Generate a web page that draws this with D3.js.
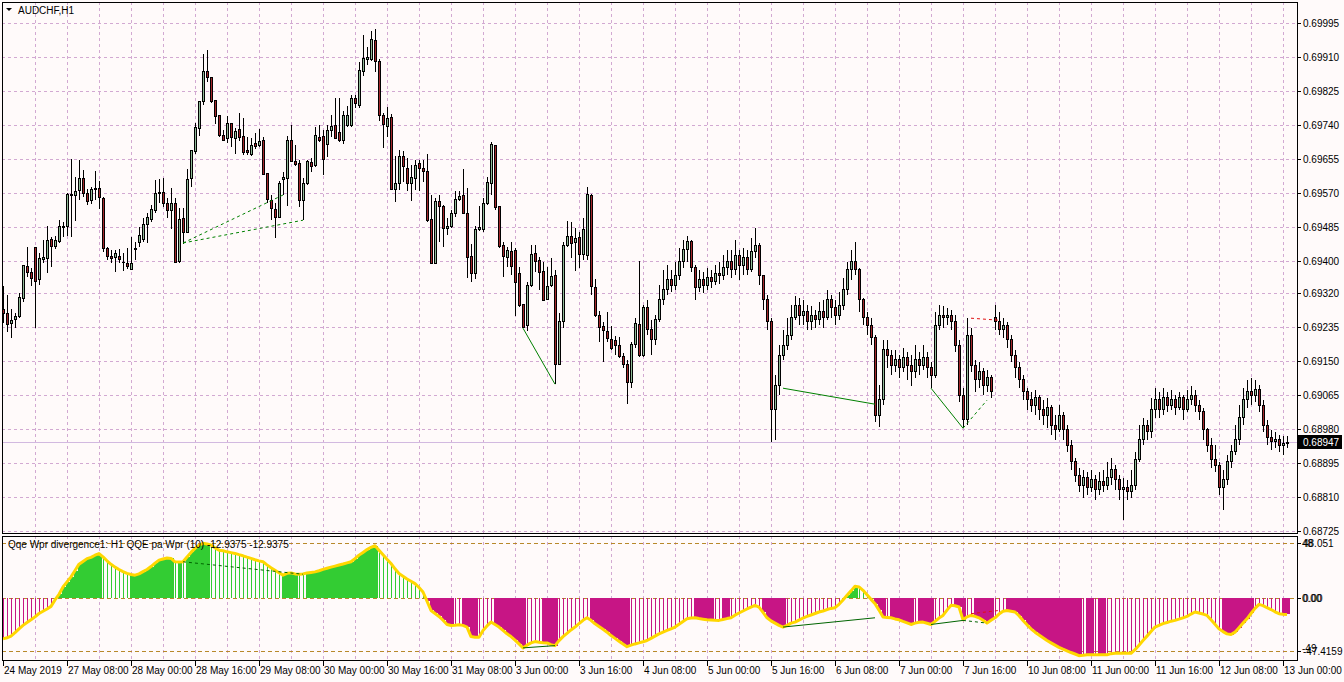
<!DOCTYPE html>
<html>
<head>
<meta charset="utf-8">
<script src="https://cdn.jsdelivr.net/npm/d3@7"></script>
<style>
body { margin: 0; background: #fffafa; }
svg { display: block; font-family: "Liberation Sans", Arial, sans-serif; }
</style>
</head>
<body>
<svg id="chart" width="1344" height="682"></svg>
<script>
// AUDCHF H1 candles, prices in points (1e-5)
var openPts = [69280,69270,69245,69255,69261,69306,69387,69372,69434,69354,69404,69406,69454,69437,69449,69484,69486,69564,69564,69577,
69607,69569,69551,69579,69582,69557,69431,69412,69409,69412,69397,69394,69379,69429,69447,69454,69491,69504,69526,69569,
69572,69544,69526,69544,69398,69507,69472,69607,69675,69732,69798,69875,69860,69802,69763,69713,69707,69744,69707,69729,
69711,69677,69667,69693,69688,69701,69619,69552,69530,69509,69605,69607,69702,69650,69644,69551,69594,69647,69638,69709,
69711,69691,69727,69740,69722,69701,69740,69740,69807,69788,69875,69903,69905,69952,69900,69763,69737,69760,69578,69593,
69662,69632,69593,69607,69645,69632,69625,69505,69393,69550,69536,69482,69487,69519,69555,69565,69519,69412,69369,69480,
69480,69544,69594,69690,69536,69440,69408,69425,69427,69369,69292,69238,69340,69418,69402,69375,69303,69338,69363,69142,
69248,69438,69461,69447,69459,69417,69415,69565,69335,69263,69237,69223,69205,69202,69188,69162,69142,69097,69192,69242,
69163,69283,69228,69203,69253,69303,69328,69353,69340,69365,69398,69428,69448,69383,69333,69353,69338,69358,69348,69368,
69363,69383,69398,69378,69415,69390,69408,69378,69423,69440,69365,69303,69248,69028,69090,69165,69190,69215,69258,69290,
69265,69273,69248,69265,69253,69273,69258,69303,69283,69265,69290,69328,69378,69398,69378,69303,69258,69240,69208,69015,
69053,69178,69165,69140,69153,69133,69158,69140,69123,69153,69140,69158,69133,69115,69240,69265,69258,69263,69248,69190,
69065,69003,69215,69140,69103,69123,69090,69108,69258,69248,69228,69240,69203,69165,69133,69103,69073,69053,69040,69058,
69028,69015,69033,68990,68978,69015,68978,68940,68898,68865,68840,68858,68833,68853,68828,68848,68840,68858,68878,68853,
68828,68833,68823,68840,68903,68953,68990,68973,69028,69053,69028,69058,69040,69053,69033,69058,69028,69053,69065,69040,
69023,68978,68940,68903,68890,68833,68853,68898,68923,68953,69008,69053,69073,69065,69078,69040,68990,68958,68948,68953,
68940,68945];
var highPts = [69337,69315,69280,69270,69319,69389,69436,69382,69434,69421,69452,69487,69459,69462,69502,69498,69569,69656,69611,69652,
69627,69579,69586,69624,69601,69561,69436,69427,69427,69431,69419,69432,69459,69448,69485,69507,69519,69540,69602,69604,
69607,69557,69582,69557,69533,69533,69630,69677,69744,69800,69917,69927,69861,69802,69763,69727,69763,69744,69732,69769,
69757,69710,69708,69719,69730,69710,69619,69565,69544,69600,69623,69713,69740,69690,69652,69607,69652,69658,69736,69740,
69727,69740,69765,69807,69807,69775,69788,69815,69815,69898,69965,69936,69975,69980,69905,69769,69786,69767,69663,69677,
69675,69658,69640,69652,69652,69652,69667,69565,69558,69565,69540,69507,69527,69575,69575,69630,69582,69442,69488,69537,
69557,69611,69698,69690,69538,69447,69436,69447,69433,69386,69292,69348,69440,69440,69411,69398,69386,69408,69377,69269,
69447,69500,69497,69482,69473,69507,69586,69567,69355,69275,69248,69272,69238,69212,69211,69169,69152,69197,69257,69400,
69290,69303,69253,69265,69340,69378,69390,69378,69398,69433,69453,69463,69453,69390,69378,69373,69383,69378,69390,69398,
69415,69428,69428,69453,69428,69433,69428,69458,69483,69445,69365,69315,69258,69115,69190,69228,69258,69290,69313,69308,
69303,69290,69288,69278,69298,69303,69328,69315,69303,69323,69358,69398,69428,69448,69383,69308,69273,69258,69215,69090,
69203,69203,69178,69178,69165,69183,69173,69165,69190,69173,69190,69173,69148,69273,69290,69288,69283,69278,69265,69203,
69083,69258,69233,69153,69148,69133,69128,69115,69290,69273,69258,69248,69215,69178,69148,69115,69083,69073,69078,69065,
69053,69058,69040,69015,69040,69023,68990,68953,68908,68883,68878,68873,68878,68865,68873,68878,68898,68908,68890,68865,
68858,68853,68878,68923,68990,69008,69003,69058,69083,69073,69083,69073,69078,69065,69073,69065,69078,69088,69078,69053,
69033,68983,68958,68940,68898,68878,68915,68940,68990,69040,69083,69103,69108,69103,69090,69053,69003,68978,68973,68965,
68963,68963];
var lowPts = [69245,69222,69207,69232,69258,69298,69361,69337,69232,69341,69394,69371,69386,69429,69446,69459,69462,69459,69501,69552,
69561,69539,69542,69552,69531,69423,69402,69394,69373,69394,69376,69379,69377,69402,69434,69447,69444,69498,69519,69544,
69536,69507,69480,69394,69396,69442,69469,69586,69667,69712,69790,69848,69794,69742,69711,69700,69694,69686,69667,69700,
69665,69665,69663,69680,69686,69615,69544,69502,69457,69507,69565,69538,69648,69638,69536,69502,69590,69623,69636,69698,
69615,69661,69711,69705,69698,69693,69736,69736,69782,69783,69863,69890,69900,69872,69750,69683,69711,69577,69547,69577,
69598,69575,69551,69577,69575,69598,69497,69394,69392,69448,69436,69465,69482,69511,69550,69519,69357,69348,69355,69475,
69473,69540,69565,69527,69433,69361,69386,69365,69263,69286,69232,69225,69336,69373,69327,69300,69302,69336,69092,69140,
69233,69436,69408,69375,69382,69402,69402,69315,69261,69198,69148,69198,69177,69165,69158,69132,69042,69083,69182,69161,
69161,69215,69165,69190,69248,69290,69315,69323,69328,69353,69383,69398,69373,69303,69323,69320,69328,69333,69340,69343,
69353,69365,69358,69365,69353,69365,69365,69373,69408,69340,69278,69228,68948,68953,69065,69153,69178,69203,69253,69240,
69240,69228,69228,69233,69240,69233,69253,69258,69240,69253,69278,69315,69353,69365,69273,69240,69215,69190,68998,68985,
69040,69133,69115,69123,69108,69123,69103,69088,69108,69115,69128,69108,69083,69108,69228,69233,69240,69228,69173,69048,
68983,68990,69123,69073,69083,69065,69073,69058,69228,69215,69208,69183,69148,69108,69083,69053,69028,69023,69015,69003,
68990,68983,68965,68953,68973,68953,68923,68878,68848,68823,68808,68815,68823,68803,68815,68823,68828,68840,68828,68803,
68753,68803,68808,68828,68898,68940,68953,68958,69008,69008,69015,69023,69028,69015,69028,69003,69023,69040,69023,69003,
68953,68923,68883,68873,68815,68778,68840,68883,68915,68940,68990,69033,69040,69048,69023,68973,68940,68928,68933,68923,
68915,68933];
var closePts = [69270,69242,69252,69262,69309,69389,69371,69356,69349,69407,69409,69452,69436,69452,69487,69487,69567,69567,69574,69607,
69569,69549,69579,69582,69559,69431,69411,69407,69419,69404,69396,69386,69394,69432,69464,69492,69509,69529,69569,69572,
69544,69526,69544,69396,69505,69472,69605,69677,69735,69800,69875,69858,69800,69761,69713,69701,69743,69708,69723,69708,
69672,69672,69690,69687,69700,69617,69555,69532,69509,69594,69608,69702,69650,69642,69551,69594,69650,69636,69715,69702,
69655,69727,69737,69707,69701,69763,69763,69807,69793,69877,69907,69909,69955,69900,69763,69742,69757,69578,69594,69662,
69637,69593,69610,69640,69632,69625,69502,69395,69550,69536,69482,69487,69519,69555,69562,69519,69409,69369,69480,69483,
69544,69597,69692,69533,69436,69411,69427,69386,69347,69290,69233,69338,69417,69400,69372,69302,69336,69361,69142,69248,
69440,69461,69444,69457,69417,69479,69567,69336,69263,69233,69227,69207,69182,69188,69161,69142,69097,69192,69244,69163,
69283,69228,69203,69253,69303,69328,69353,69340,69365,69398,69428,69448,69383,69333,69353,69338,69358,69348,69368,69363,
69383,69398,69378,69415,69390,69408,69378,69423,69440,69365,69303,69248,69028,69090,69165,69190,69215,69258,69290,69265,
69273,69248,69265,69253,69273,69258,69303,69283,69265,69290,69328,69378,69398,69378,69303,69258,69240,69208,69015,69053,
69178,69165,69140,69153,69133,69158,69140,69123,69153,69140,69158,69133,69115,69240,69265,69258,69263,69248,69190,69065,
69003,69215,69140,69103,69123,69090,69108,69073,69248,69228,69240,69203,69165,69133,69103,69073,69053,69040,69058,69028,
69015,69033,68990,68978,69015,68978,68940,68898,68865,68840,68858,68833,68853,68828,68848,68840,68858,68878,68853,68828,
68833,68823,68840,68903,68953,68990,68973,69028,69053,69028,69058,69040,69053,69033,69058,69028,69053,69065,69040,69023,
68978,68940,68903,68890,68833,68853,68898,68923,68953,69008,69053,69073,69065,69078,69040,68990,68958,68948,68953,68940,
68945,68947];

// QQE pa Wpr (10) histogram / line values, one per bar
var qqeValues = [-36.4,-35.5,-34,-31,-27.6,-24.5,-22,-19.6,-17,-14,-12,-10,-7.7,-2,3,9.5,14,18.4,24,29.6,
32,34.5,35.6,37.5,39,36,32.6,29.5,27,24.9,23,21.5,20.5,19.9,21,23,24.9,27.5,30.5,33.2,
34.2,35,34.7,31.7,31.5,31.7,36,40,43.6,46.5,48,47.5,46.5,44,42,41.5,40.5,39.8,39.1,38,
37,35.8,34.7,33.5,32.5,31.7,29,26.5,24.3,22,19.9,21.5,21.9,21,20.7,21,21.8,22.3,22.8,23.8,
25,26,27,27.9,28.8,29.7,30.7,31.7,34.5,37.6,40,42.5,44.5,45.9,42,38,34,30.2,25.5,21.3,
19,16.5,14.5,12.4,9,5,-3,-11.3,-14,-16.6,-20,-23.7,-24.6,-24.4,-24,-24.5,-26,-34.4,-35,-35,
-29,-25,-21.6,-23.8,-26,-29,-32,-34.4,-37.5,-40.9,-44.4,-42,-40,-38.8,-39.5,-39.8,-40,-41.5,-42.4,-38,
-34.4,-31.5,-28.5,-26,-23,-20,-17.8,-20,-23.1,-25.5,-28,-30.5,-33.5,-36,-38.5,-41,-43.3,-42,-40.9,-40,
-39,-37.9,-36,-34,-32,-30.5,-29,-27.5,-26,-23.5,-21,-18.7,-18,-17.8,-18.5,-19,-19.6,-19.8,-20,-20.1,
-19.3,-18.5,-17.8,-15.5,-13.6,-11.8,-10,-8.3,-6.8,-8.3,-13,-17.8,-20.5,-22.5,-24.5,-26,-24.5,-22.5,-21.6,-19.8,
-18,-16.6,-15.3,-14,-12.7,-11.8,-10.5,-9.5,-8.9,-5.9,-2,2.1,6,10.1,9.5,6.5,2.5,-1.5,-5.3,-11,
-17.2,-17.5,-17.8,-18.8,-19.6,-21,-22.3,-23.7,-22.5,-21.8,-21.6,-22.6,-23.7,-21,-18,-15.7,-11,-6.8,-7.2,-8.3,
-19.6,-17,-15.7,-16.5,-17.8,-20,-22.5,-20,-17.8,-14.5,-12,-11.3,-12,-12.7,-16,-20.1,-24,-27.5,-30.5,-33,
-35.5,-37.9,-40,-42,-43.9,-45.5,-47,-48.5,-49.8,-51.3,-51,-50.5,-50.4,-50.4,-50.4,-50.4,-50.4,-49.5,-49.2,-49.2,
-49.2,-49.2,-49.2,-46,-42,-37.9,-34,-30,-26,-24.5,-23,-22,-20.8,-20.1,-19,-17.8,-16.6,-14.5,-12.7,-13.5,
-14.5,-15.7,-19.5,-23.5,-27.6,-30,-32,-32.6,-30.5,-26.5,-22.5,-18.7,-14,-9.5,-5.9,-7,-8.9,-10.5,-12.5,-14.2,
-14.6,-14.8];
// 1 = wide histogram bar, 0 = thin bar
var histWide = [0,0,0,0,0,0,0,0,0,0,0,0,0,0,1,1,1,1,1,1,1,1,1,1,1,0,0,0,0,0,0,0,1,1,1,1,1,1,1,1,
1,1,1,0,1,0,1,1,1,1,1,1,0,0,0,0,0,0,0,0,0,0,0,0,0,0,0,0,0,0,1,1,1,1,0,0,1,1,1,1,
1,1,1,1,1,1,1,1,1,1,1,1,1,1,0,0,0,0,0,0,0,0,0,0,0,0,1,1,1,1,1,1,1,0,0,1,1,1,1,0,
0,0,0,1,1,1,1,1,1,1,1,0,0,0,0,1,1,1,1,0,0,0,0,0,0,0,0,1,1,1,1,1,1,1,1,1,1,0,0,0,
0,0,0,0,0,0,0,0,0,0,0,0,0,1,1,1,1,1,0,0,1,1,0,0,0,0,0,0,0,0,1,1,1,1,1,1,0,0,0,0,
0,0,0,0,0,0,0,0,0,0,0,1,1,1,0,0,0,0,1,1,1,0,1,1,1,1,1,1,0,1,1,1,1,0,0,0,0,0,1,1,
1,0,0,1,1,1,1,1,0,0,0,1,1,1,1,1,1,1,1,1,1,1,1,1,1,1,1,1,1,1,0,1,1,0,1,1,0,0,0,0,
0,0,0,0,0,0,0,0,0,0,0,0,0,0,0,0,0,0,0,0,0,0,0,0,0,1,1,1,1,1,1,1,1,0,0,0,0,0,0,0,
1,1,1,1,1,1,1];

var priceTicks = [0.69995,0.69910,0.69825,0.69740,0.69655,0.69570,0.69485,0.69400,0.69320,0.69235,0.69150,0.69065,0.68980,0.68895,0.68810,0.68725];
var timeLabels = ["24 May 2019","27 May 08:00","28 May 00:00","28 May 16:00","29 May 08:00","30 May 00:00","30 May 16:00","31 May 08:00",
"3 Jun 00:00","3 Jun 16:00","4 Jun 08:00","5 Jun 00:00","5 Jun 16:00","6 Jun 08:00","7 Jun 00:00","7 Jun 16:00",
"10 Jun 08:00","11 Jun 00:00","11 Jun 16:00","12 Jun 08:00","13 Jun 00:00"];
var lastPrice = 0.68947;
var qqeAxisValues = [48.051, 0, -47.4159];
var qqeAxisLevels = ["48", "0.00", "-49"];

// divergences: bars, prices on chart, values on indicator
var divFrom = [45, 45, 130, 195, 232, 240, 242];
var divTo = [70, 75, 138, 218, 240, 246, 249];
var divPriceFrom = [0.69445, 0.69445, 0.69232, 0.69082, 0.69082, 0.68982, 0.69257];
var divPriceTo = [0.69565, 0.69502, 0.69092, 0.69042, 0.68982, 0.69052, 0.69252];
var divQqeFrom = [null, 31.7, -44.4, -26, -23.7, -20.1, -14.2];
var divQqeTo = [null, 20.7, -42.4, -17.8, -20.1, -22.5, -11.3];
var divKind = ["bullDash", "bullDash", "bull", "bull", "bull", "bullDash", "bearDash"];

var svg = d3.select("#chart");
var W = 1344, H = 682;
var plotL = 2, plotR = 1297, mainTop = 2, mainBot = 533, indTop = 536, indBot = 660;

var bars = openPts.map(function(o, i){
  return {i: i, o: o/1e5, h: highPts[i]/1e5, l: lowPts[i]/1e5, c: closePts[i]/1e5};
});

var x = d3.scaleLinear().domain([0, 1]).range([3, 7]);
var y = d3.scaleLinear().domain([0.68725, 0.69995]).range([531, 23]);
var yq = d3.scaleLinear().domain([-47.4159, 48.051]).range([651.3, 543.3]);

svg.append("rect").attr("width", W).attr("height", H).attr("fill", "#fffafa");

var defs = svg.append("defs");
defs.append("clipPath").attr("id", "clipMain").append("rect")
  .attr("x", plotL).attr("y", mainTop).attr("width", plotR - plotL).attr("height", mainBot - mainTop);
defs.append("clipPath").attr("id", "clipInd").append("rect")
  .attr("x", plotL).attr("y", indTop).attr("width", plotR - plotL).attr("height", indBot - indTop);

var gridColor = "#d2a9d2";
var nBars = qqeValues.length;

// grid
var vGrid = d3.range(8, nBars + 8, 8).map(function(i){ return Math.round(x(i)) + 0.5; })
  .filter(function(v){ return v < plotR; });
var grid = svg.append("g").attr("stroke", gridColor).attr("stroke-dasharray", "3,3").attr("shape-rendering", "crispEdges");
grid.selectAll(".vm").data(vGrid).enter().append("line")
  .attr("x1", function(d){ return d; }).attr("x2", function(d){ return d; })
  .attr("y1", mainTop).attr("y2", mainBot);
grid.selectAll(".vi").data(vGrid).enter().append("line")
  .attr("x1", function(d){ return d; }).attr("x2", function(d){ return d; })
  .attr("y1", indTop).attr("y2", indBot);
grid.selectAll(".h").data(priceTicks).enter().append("line")
  .attr("x1", plotL).attr("x2", plotR)
  .attr("y1", function(d){ return Math.round(y(d)) + 0.5; })
  .attr("y2", function(d){ return Math.round(y(d)) + 0.5; });

// current price line
svg.append("line").attr("x1", plotL).attr("x2", plotR)
  .attr("y1", Math.round(y(lastPrice)) + 0.5).attr("y2", Math.round(y(lastPrice)) + 0.5)
  .attr("stroke", "#d2b9e0").attr("shape-rendering", "crispEdges");

// candles
var main = svg.append("g").attr("clip-path", "url(#clipMain)").attr("shape-rendering", "crispEdges");
var candle = main.selectAll(".candle").data(bars).enter().append("g").attr("class", "candle");
candle.append("line")
  .attr("x1", function(d){ return x(d.i) + 0.5; }).attr("x2", function(d){ return x(d.i) + 0.5; })
  .attr("y1", function(d){ return y(d.h); }).attr("y2", function(d){ return y(d.l); })
  .attr("stroke", "#000");
candle.append("rect")
  .attr("x", function(d){ return x(d.i) - 0.5; })
  .attr("width", 2)
  .attr("y", function(d){ return y(Math.max(d.o, d.c)); })
  .attr("height", function(d){ return Math.max(0.5, y(Math.min(d.o, d.c)) - y(Math.max(d.o, d.c))); })
  .attr("fill", function(d){ return d.c >= d.o ? "#8fb996" : "#a3262a"; })
  .attr("stroke", "#000");

// divergence lines on price
var divIdx = d3.range(divFrom.length);
var divStyle = {
  bull: {color: "#008000", dash: null},
  bullDash: {color: "#008000", dash: "3,3"},
  bearDash: {color: "#e01010", dash: "3,3"}
};
main.selectAll(".divp").data(divIdx).enter().append("line")
  .attr("x1", function(k){ return x(divFrom[k]); }).attr("x2", function(k){ return x(divTo[k]); })
  .attr("y1", function(k){ return y(divPriceFrom[k]); }).attr("y2", function(k){ return y(divPriceTo[k]); })
  .attr("stroke", function(k){ return divStyle[divKind[k]].color; })
  .attr("stroke-dasharray", function(k){ return divStyle[divKind[k]].dash; })
  .attr("shape-rendering", "auto");

// indicator
var ind = svg.append("g").attr("clip-path", "url(#clipInd)");
var qqe = qqeValues.map(function(v, i){ return {i: i, v: v, wide: histWide[i]}; });

ind.selectAll(".lvl").data(qqeAxisValues).enter().append("line")
  .attr("x1", plotL).attr("x2", plotR)
  .attr("y1", function(d){ return Math.round(yq(d)) + 0.5; })
  .attr("y2", function(d){ return Math.round(yq(d)) + 0.5; })
  .attr("stroke", "#b8892a").attr("stroke-dasharray", "4,3").attr("shape-rendering", "crispEdges");

var histColor = function(d){ return d.v >= 0 ? "#33cc33" : "#c71585"; };
ind.selectAll(".hw").data(qqe.filter(function(d){ return d.wide; })).enter().append("rect")
  .attr("x", function(d){ return x(d.i) - 1.5; })
  .attr("width", 4)
  .attr("y", function(d){ return Math.min(yq(d.v), yq(0)); })
  .attr("height", function(d){ return Math.abs(yq(d.v) - yq(0)); })
  .attr("fill", histColor).attr("shape-rendering", "crispEdges");
ind.selectAll(".ht").data(qqe.filter(function(d){ return !d.wide; })).enter().append("line")
  .attr("x1", function(d){ return x(d.i) + 0.5; }).attr("x2", function(d){ return x(d.i) + 0.5; })
  .attr("y1", yq(0)).attr("y2", function(d){ return yq(d.v); })
  .attr("stroke", histColor).attr("shape-rendering", "crispEdges");

ind.append("path").datum(qqe)
  .attr("d", d3.line().x(function(d){ return x(d.i); }).y(function(d){ return yq(d.v); }))
  .attr("fill", "none").attr("stroke", "#ffd700").attr("stroke-width", 3).attr("stroke-linejoin", "round");

ind.selectAll(".divq").data(divIdx.filter(function(k){ return divQqeFrom[k] !== null; })).enter().append("line")
  .attr("x1", function(k){ return x(divFrom[k]); }).attr("x2", function(k){ return x(divTo[k]); })
  .attr("y1", function(k){ return yq(divQqeFrom[k]); }).attr("y2", function(k){ return yq(divQqeTo[k]); })
  .attr("stroke", function(k){ return divStyle[divKind[k]].color === "#008000" ? "#006400" : "#e01010"; })
  .attr("stroke-dasharray", function(k){ return divStyle[divKind[k]].dash; });

// frames
var frame = svg.append("g").attr("fill", "none").attr("stroke", "#000").attr("shape-rendering", "crispEdges");
frame.append("rect").attr("x", plotL + 0.5).attr("y", mainTop + 0.5).attr("width", plotR - plotL).attr("height", mainBot - mainTop);
frame.append("rect").attr("x", plotL + 0.5).attr("y", indTop + 0.5).attr("width", plotR - plotL).attr("height", indBot - indTop);

// price axis
var axisG = svg.append("g").attr("font-size", "10px").attr("fill", "#000");
axisG.selectAll(".pt").data(priceTicks).enter().append("line")
  .attr("x1", plotR).attr("x2", plotR + 4)
  .attr("y1", function(d){ return Math.round(y(d)) + 0.5; })
  .attr("y2", function(d){ return Math.round(y(d)) + 0.5; })
  .attr("stroke", "#000").attr("shape-rendering", "crispEdges");
axisG.selectAll(".pl").data(priceTicks).enter().append("text")
  .attr("x", plotR + 6).attr("y", function(d){ return y(d) + 4; })
  .text(function(d){ return d3.format(".5f")(d); });

var lastY = Math.round(y(lastPrice));
axisG.append("rect").attr("x", plotR + 1).attr("y", lastY - 7).attr("width", 44).attr("height", 14).attr("fill", "#000");
axisG.append("text").attr("x", plotR + 6).attr("y", lastY + 4).attr("fill", "#fff").text(d3.format(".5f")(lastPrice));

// indicator axis
axisG.selectAll(".ql").data(qqeAxisValues).enter().append("text")
  .attr("x", plotR + 6).attr("y", function(d){ return yq(d) + 4; })
  .text(function(d){ return d === 0 ? "0.00" : String(d); });
axisG.selectAll(".qv").data(qqeAxisLevels).enter().append("text")
  .attr("x", plotR + 5).attr("y", function(d, k){ return yq(qqeAxisValues[k]) + (k === 2 ? 1 : 4); })
  .text(function(d){ return d; });
axisG.selectAll(".qt").data(qqeAxisValues).enter().append("line")
  .attr("x1", plotR).attr("x2", plotR + 4)
  .attr("y1", function(d){ return Math.round(yq(d)) + 0.5; })
  .attr("y2", function(d){ return Math.round(yq(d)) + 0.5; })
  .attr("stroke", "#000").attr("shape-rendering", "crispEdges");

// time axis
var timeG = svg.append("g").attr("font-size", "10px");
timeG.selectAll("line").data(timeLabels).enter().append("line")
  .attr("x1", function(d, k){ return x(k * 16) + 0.5; }).attr("x2", function(d, k){ return x(k * 16) + 0.5; })
  .attr("y1", indBot).attr("y2", indBot + 6)
  .attr("stroke", "#000").attr("shape-rendering", "crispEdges");
timeG.selectAll("text").data(timeLabels).enter().append("text")
  .attr("x", function(d, k){ return x(k * 16) + 1; }).attr("y", 674)
  .text(function(d){ return d; });

// titles
svg.append("path").attr("d", "M6,8 L12,8 L9,11 Z").attr("fill", "#000");
svg.append("text").attr("x", 18).attr("y", 14).attr("font-size", "10px").text("AUDCHF,H1");
svg.append("text").attr("x", 8).attr("y", 548).attr("font-size", "10px")
  .text("Qqe Wpr divergence1: H1  QQE pa Wpr (10) -12.9375 -12.9375");
</script>
</body>
</html>
